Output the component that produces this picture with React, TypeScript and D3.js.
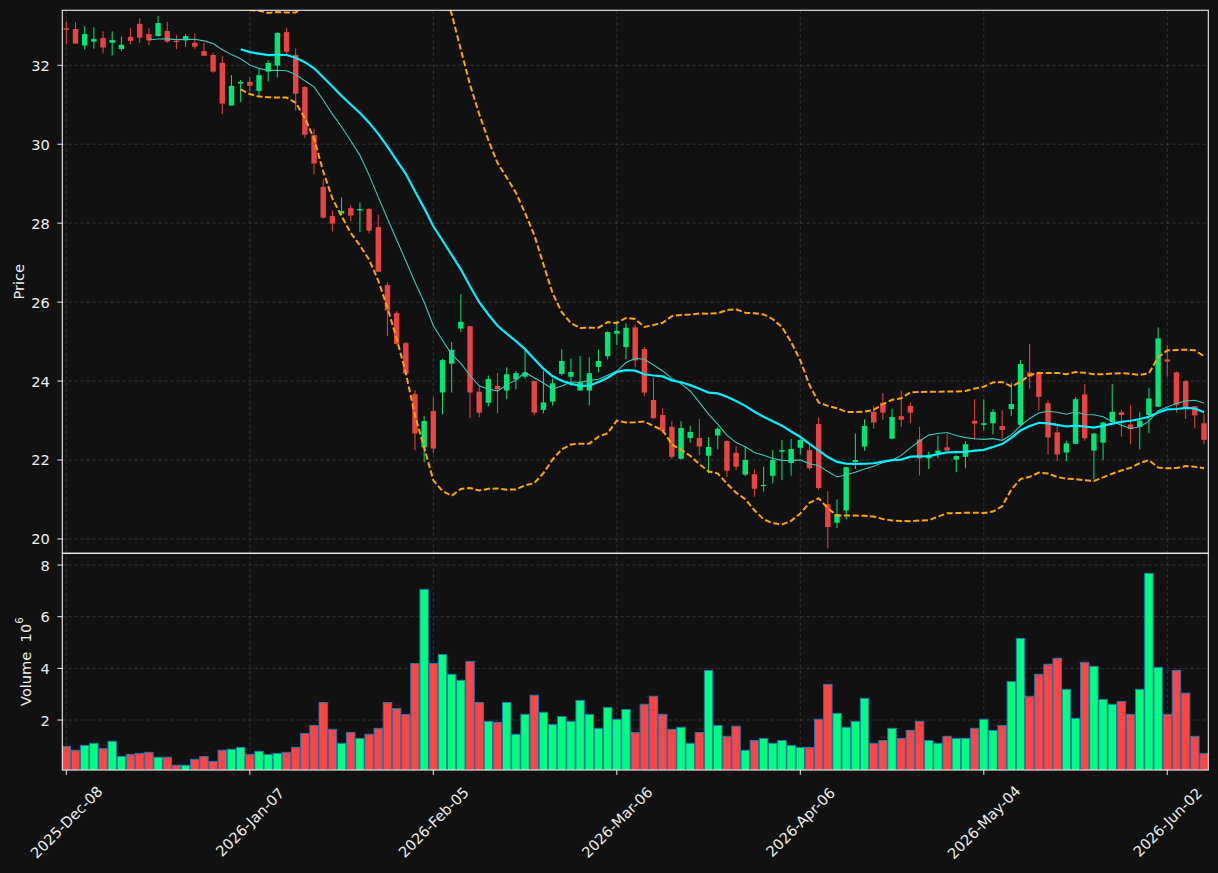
import React, { useEffect } from "react";
import * as d3 from "d3";

// ---------- data ----------
const opens = [
  32.94, 32.92, 32.50, 32.60, 32.69, 32.57, 32.41, 32.72, 33.05, 32.79,
  32.74, 32.87, 32.62, 32.63, 32.57, 32.36, 32.26, 32.06, 30.98, 31.54,
  31.58, 31.35, 31.84, 31.99, 32.84, 32.26, 31.45, 30.23, 28.92, 28.18,
  28.24, 28.38, 28.32, 28.36, 27.90, 26.43, 25.72, 24.96, 23.67, 22.32,
  23.24, 23.71, 24.44, 25.33, 25.39, 23.73, 23.45, 23.88, 23.76, 24.04,
  24.11, 24.00, 23.27, 23.48, 24.18, 24.11, 23.76, 23.76, 24.36, 24.63,
  25.20, 24.86, 25.36, 24.81, 23.52, 23.14, 22.84, 22.03, 22.56, 22.56,
  22.11, 22.62, 22.48, 22.18, 21.63, 21.64, 21.34, 21.60, 22.21, 21.92,
  22.31, 22.25, 22.91, 20.88, 20.41, 20.72, 21.95, 22.34, 23.22, 23.45,
  22.54, 23.11, 23.37, 22.52, 22.04, 22.17, 22.32, 22.01, 22.08, 22.99,
  22.89, 22.93, 22.86, 23.29, 22.89, 24.22, 24.22, 23.44, 22.70, 22.19,
  22.41, 23.66, 22.24, 22.44, 22.96, 23.21, 22.90, 22.84, 23.14, 23.35,
  24.55, 24.22, 24.00, 23.36, 22.93,
];
const highs = [
  33.11, 33.09, 32.99, 32.96, 32.86, 32.86, 32.73, 32.94, 33.19, 32.94,
  33.25, 33.10, 32.77, 32.79, 32.81, 32.56, 32.32, 32.23, 31.75, 31.63,
  31.70, 31.90, 32.13, 32.84, 32.94, 32.43, 31.47, 30.39, 29.11, 28.32,
  28.65, 28.45, 28.52, 28.38, 28.22, 26.50, 25.77, 24.99, 23.77, 23.11,
  23.59, 24.56, 24.99, 26.20, 25.39, 23.86, 24.14, 24.20, 24.35, 24.26,
  24.83, 24.00, 24.26, 24.06, 24.80, 24.57, 24.63, 24.60, 24.80, 25.26,
  25.53, 25.46, 25.43, 24.86, 24.09, 23.31, 22.99, 22.98, 22.86, 23.04,
  22.58, 22.84, 22.50, 22.35, 22.35, 21.76, 21.83, 22.25, 22.51, 22.53,
  22.53, 22.37, 23.08, 21.21, 21.00, 21.82, 22.67, 23.03, 23.37, 23.69,
  23.30, 23.76, 23.46, 22.84, 22.21, 22.62, 22.66, 22.12, 22.48, 23.54,
  23.54, 23.29, 23.26, 23.96, 24.53, 24.94, 24.24, 23.51, 22.86, 22.49,
  23.59, 23.92, 22.69, 22.97, 23.92, 23.27, 23.39, 23.21, 23.83, 25.36,
  24.91, 24.24, 24.02, 23.37, 23.16,
];
const lows = [
  32.52, 32.55, 32.40, 32.42, 32.30, 32.25, 32.36, 32.53, 32.57, 32.51,
  32.73, 32.57, 32.41, 32.47, 32.42, 32.24, 31.81, 30.76, 30.98, 31.06,
  31.33, 31.22, 31.59, 31.69, 32.29, 30.85, 30.16, 29.24, 28.12, 27.79,
  28.21, 28.05, 27.77, 27.74, 26.77, 25.14, 24.92, 24.18, 22.25, 21.94,
  22.17, 23.16, 23.71, 25.24, 23.06, 23.08, 23.36, 23.18, 23.54, 23.79,
  24.06, 23.13, 23.18, 23.38, 24.14, 23.88, 23.76, 23.38, 24.22, 24.55,
  24.91, 24.55, 24.35, 23.62, 23.05, 22.67, 22.03, 22.01, 22.44, 22.12,
  21.66, 22.27, 21.57, 21.74, 21.59, 21.07, 21.20, 21.41, 21.49, 21.60,
  22.14, 21.75, 21.24, 19.76, 20.27, 20.49, 21.77, 22.24, 22.79, 23.02,
  22.54, 22.84, 22.93, 21.61, 21.77, 22.05, 22.22, 21.69, 21.79, 22.51,
  22.75, 22.65, 22.52, 23.12, 22.84, 23.81, 23.25, 22.14, 21.97, 21.97,
  22.40, 22.49, 21.52, 22.00, 22.96, 22.59, 22.40, 22.27, 22.68, 23.35,
  24.11, 23.21, 23.04, 22.80, 22.40,
];
const closes = [
  32.90, 32.55, 32.79, 32.67, 32.45, 32.64, 32.52, 32.62, 32.70, 32.63,
  33.07, 32.60, 32.60, 32.74, 32.47, 32.24, 31.84, 31.03, 31.48, 31.58,
  31.48, 31.75, 32.06, 32.82, 32.34, 31.28, 30.24, 29.51, 28.14, 27.99,
  28.31, 28.19, 28.36, 27.81, 26.77, 25.79, 24.94, 24.19, 22.67, 22.99,
  22.29, 24.53, 24.79, 25.50, 23.71, 23.20, 24.05, 23.79, 24.17, 24.20,
  24.22, 23.20, 23.46, 23.94, 24.51, 24.23, 23.97, 24.20, 24.51, 25.24,
  25.27, 25.35, 24.52, 23.71, 23.06, 22.73, 22.08, 22.81, 22.71, 22.34,
  22.33, 22.79, 21.73, 21.83, 22.00, 21.27, 21.37, 22.00, 22.25, 22.28,
  22.51, 21.79, 21.29, 20.30, 20.63, 21.82, 22.00, 22.86, 22.95, 23.20,
  23.09, 23.02, 23.20, 22.04, 22.13, 22.24, 22.24, 22.10, 22.40, 22.92,
  22.93, 23.22, 22.76, 23.42, 24.43, 24.11, 23.60, 22.57, 22.14, 22.42,
  23.54, 22.55, 22.67, 22.95, 23.22, 23.14, 22.78, 23.00, 23.56, 25.08,
  24.49, 23.40, 23.33, 23.13, 22.51,
];
// volume in millions
const volumes = [
  0.98, 0.83, 1.02, 1.10, 0.90, 1.18, 0.59, 0.67, 0.71, 0.75,
  0.56, 0.56, 0.25, 0.25, 0.48, 0.59, 0.40, 0.83, 0.87, 0.94,
  0.67, 0.79, 0.67, 0.71, 0.75, 0.94, 1.48, 1.79, 2.68, 1.64,
  1.10, 1.52, 1.29, 1.45, 1.68, 2.68, 2.45, 2.22, 4.19, 7.06,
  4.19, 4.54, 3.77, 3.54, 4.27, 2.68, 1.95, 1.91, 2.68, 1.45,
  2.22, 2.96, 2.30, 1.83, 2.14, 1.95, 2.76, 2.22, 1.68, 2.49,
  2.03, 2.41, 1.52, 2.61, 2.92, 2.22, 1.64, 1.72, 1.10, 1.52,
  3.92, 1.79, 1.37, 1.76, 0.83, 1.21, 1.29, 1.10, 1.21, 1.02,
  0.94, 0.94, 2.03, 3.38, 2.26, 1.72, 1.95, 2.84, 1.10, 1.21,
  1.68, 1.29, 1.60, 1.95, 1.21, 1.10, 1.37, 1.29, 1.29, 1.68,
  2.03, 1.60, 1.79, 3.49, 5.16, 2.92, 3.77, 4.16, 4.39, 3.19,
  2.07, 4.23, 4.08, 2.80, 2.61, 2.72, 2.22, 3.19, 7.68, 4.04,
  2.22, 3.92, 3.04, 1.37, 0.71,
];
const tickIndex = [0, 20, 40, 60, 80, 100, 120];
const tickLabels = [
  "2025-Dec-08", "2026-Jan-07", "2026-Feb-05", "2026-Mar-06",
  "2026-Apr-06", "2026-May-04", "2026-Jun-02",
];
const priceTicks = [20, 22, 24, 26, 28, 30, 32];
const volumeTicks = [2, 4, 6, 8];

// ---------- indicators derived from closes ----------
function sma(arr: number[], n: number): (number | null)[] {
  return arr.map((_, i) => (i < n - 1 ? null : d3.mean(arr.slice(i - n + 1, i + 1))!));
}
function bands(arr: number[], n: number, k: number) {
  const up: (number | null)[] = [];
  const lo: (number | null)[] = [];
  arr.forEach((_, i) => {
    if (i < n - 1) { up.push(null); lo.push(null); return; }
    const w = arr.slice(i - n + 1, i + 1);
    const m = d3.mean(w)!;
    const sd = Math.sqrt(d3.mean(w.map((v) => (v - m) * (v - m)))!);
    up.push(m + k * sd);
    lo.push(m - k * sd);
  });
  return { up, lo };
}

const BG = "#111111";
const TXT = "#eeeeee";
const SPINE = "#eeeeee";
const GRID = "#3a3a3a";
const UP = "#00e676";
const DOWN = "#e84444";
const VUP = "#00ff7f";
const VDOWN = "#ff4444";
const FONT = "DejaVu Sans, sans-serif";
const FS = 14.6;

export default function App() {
  useEffect(() => {
    document.body.style.margin = "0";
    document.body.style.background = BG;
  }, []);

  const L = 62.3, R = 1208.3, PT = 10.3, PB = 553.3, VB = 770;
  const x = d3.scaleLinear().domain([-0.44, 124.47]).range([L, R]);
  const yp = d3.scaleLinear().domain([19.636, 33.393]).range([PB, PT]);
  const yv = d3.scaleLinear().domain([0.066, 8.455]).range([VB, PB]);
  const step = x(1) - x(0);
  const bodyW = 5.4;
  const volW = step * 0.92;

  const ma10 = sma(closes, 10);
  const ma20 = sma(closes, 20);
  const bb = bands(closes, 20, 2);

  const line = d3
    .line<number | null>()
    .defined((d) => d !== null)
    .x((_, i) => x(i))
    .y((d) => yp(d as number));

  const idx = d3.range(closes.length);

  return (
    <svg width={1218} height={873} style={{ position: "absolute", left: 0, top: 0, display: "block" }}>
      <defs>
        <clipPath id="pclip">
          <rect x={L} y={PT} width={R - L} height={PB - PT} />
        </clipPath>
        <clipPath id="vclip">
          <rect x={L} y={PB} width={R - L} height={VB - PB} />
        </clipPath>
      </defs>
      <rect x={0} y={0} width={1218} height={873} fill={BG} />

      {/* grid */}
      <g stroke={GRID} strokeWidth={0.8} strokeDasharray="3.5,2.5" fill="none">
        {tickIndex.map((t) => (
          <line key={"gx" + t} x1={x(t)} x2={x(t)} y1={PT} y2={VB} />
        ))}
        {priceTicks.map((t) => (
          <line key={"gp" + t} x1={L} x2={R} y1={yp(t)} y2={yp(t)} />
        ))}
        {volumeTicks.map((t) => (
          <line key={"gv" + t} x1={L} x2={R} y1={yv(t)} y2={yv(t)} />
        ))}
      </g>

      {/* candles */}
      <g clipPath="url(#pclip)">
        {idx.map((i) => {
          const up = closes[i] >= opens[i];
          const c = up ? UP : DOWN;
          const top = yp(Math.max(opens[i], closes[i]));
          const bot = yp(Math.min(opens[i], closes[i]));
          return (
            <g key={"c" + i}>
              <line x1={x(i)} x2={x(i)} y1={yp(highs[i])} y2={yp(lows[i])} stroke={c} strokeWidth={1} />
              <rect x={x(i) - bodyW / 2} y={top} width={bodyW} height={Math.max(1.2, bot - top)} fill={c} />
            </g>
          );
        })}
        <path d={line(ma10) || ""} fill="none" stroke="#3cc8b8" strokeWidth={1.1} />
        <path d={line(ma20) || ""} fill="none" stroke="#00f0ff" strokeWidth={2.2} />
        <path d={line(bb.up) || ""} fill="none" stroke="#ffa500" strokeWidth={2} strokeDasharray="6,2.7" />
        <path d={line(bb.lo) || ""} fill="none" stroke="#ffa500" strokeWidth={2} strokeDasharray="6,2.7" />
      </g>

      {/* volume */}
      <g clipPath="url(#vclip)">
        {idx.map((i) => {
          const up = closes[i] >= opens[i];
          return (
            <rect
              key={"v" + i}
              x={x(i) - volW / 2}
              y={yv(volumes[i])}
              width={volW}
              height={yv(0) - yv(volumes[i])}
              fill={up ? VUP : VDOWN}
              stroke="#1f77b4"
              strokeWidth={1}
            />
          );
        })}
      </g>

      {/* spines */}
      <g stroke={SPINE} strokeWidth={1.1} fill="none">
        <rect x={L} y={PT} width={R - L} height={PB - PT} />
        <rect x={L} y={PB} width={R - L} height={VB - PB} />
      </g>

      {/* ticks and labels */}
      <g fontFamily={FONT} fontSize={FS} fill={TXT}>
        {priceTicks.map((t) => (
          <g key={"pt" + t}>
            <line x1={L - 4.9} x2={L} y1={yp(t)} y2={yp(t)} stroke={SPINE} strokeWidth={1} />
            <text x={L - 12.5} y={yp(t)} textAnchor="end" dominantBaseline="central">
              {t}
            </text>
          </g>
        ))}
        {volumeTicks.map((t) => (
          <g key={"vt" + t}>
            <line x1={L - 4.9} x2={L} y1={yv(t)} y2={yv(t)} stroke={SPINE} strokeWidth={1} />
            <text x={L - 12.5} y={yv(t)} textAnchor="end" dominantBaseline="central">
              {t}
            </text>
          </g>
        ))}
        {tickIndex.map((t, k) => (
          <g key={"xt" + t}>
            <line x1={x(t)} x2={x(t)} y1={VB} y2={VB + 4.9} stroke={SPINE} strokeWidth={1} />
            <text
              transform={`translate(${x(t)},${822}) rotate(-45)`}
              textAnchor="middle"
              dominantBaseline="central"
            >
              {tickLabels[k]}
            </text>
          </g>
        ))}
        <text transform={`translate(18.5,${(PT + PB) / 2}) rotate(-90)`} textAnchor="middle" dominantBaseline="central">
          Price
        </text>
        <text transform={`translate(25,${(PB + VB) / 2}) rotate(-90)`} textAnchor="middle" dominantBaseline="central">
          Volume{"\u00a0\u00a0"}10
          <tspan fontSize={10.2} dy={-6}>6</tspan>
        </text>
      </g>
    </svg>
  );
}
